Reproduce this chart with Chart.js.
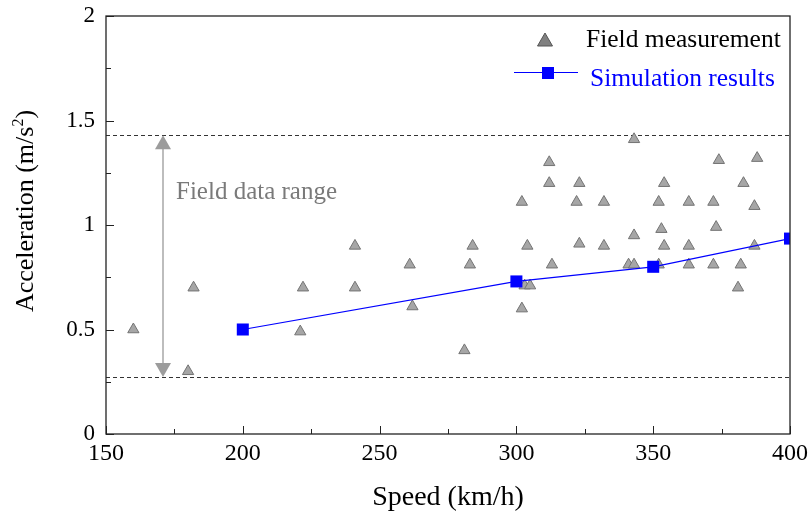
<!DOCTYPE html>
<html lang="en">
<head>
  <meta charset="UTF-8" />
  <title>Acceleration vs Speed</title>
  <script src="https://cdn.jsdelivr.net/npm/chart.js"></script>
  <style>
    body { margin: 0; background: #fff; }
    .wrap { width: 808px; height: 515px; }
  </style>
</head>
<body>
  <div class="wrap"><canvas id="accChart" width="808" height="515"></canvas></div>

  <script>
    // field measurements: speed (km/h) and acceleration (m/s2)
    const fieldSpeed = [160, 182, 180, 221, 222, 241, 241, 261, 262, 281, 283, 284,
      302, 302, 304, 303, 305, 312, 312, 313, 323, 322, 323, 332, 332,
      341, 343, 343, 343, 352, 353, 352, 354, 354, 363, 363, 363,
      372, 372, 373, 374, 383, 382, 381, 387, 387, 388];
    const fieldAcc = [0.50, 0.70, 0.30, 0.49, 0.70, 0.90, 0.70, 0.81, 0.61, 0.40, 0.81, 0.90,
      1.11, 0.60, 0.90, 0.71, 0.71, 1.30, 1.20, 0.81, 1.20, 1.11, 0.91, 1.11, 0.90,
      0.81, 0.81, 1.41, 0.95, 1.11, 0.98, 0.81, 1.20, 0.90, 1.11, 0.90, 0.81,
      1.11, 0.81, 0.99, 1.31, 1.20, 0.81, 0.70, 1.09, 0.90, 1.32];

    // simulation results
    const simSpeed = [200, 300, 350, 400];
    const simAcc = [0.50, 0.73, 0.80, 0.935];

    // field data range bounds and where the arrow sits
    const rangeBounds = [0.273, 1.43];
    const arrowSpeed = 171;

    const xTicks = [150, 200, 250, 300, 350, 400];
    const yTicks = [0, 0.5, 1, 1.5, 2];

    const serif = '"Liberation Serif", "Times New Roman", serif';

    const toPoints = (xs, ys) => xs.map((x, i) => ({ x: x, y: ys[i] }));

    // frame, inward ticks, dashed range lines, arrow, legend, y title
    const decor = {
      id: 'decor',
      beforeDatasetsDraw(chart) {
        const { ctx, chartArea: a, scales: { x, y } } = chart;
        ctx.save();
        // dashed bounds
        ctx.strokeStyle = '#333';
        ctx.lineWidth = 1;
        ctx.setLineDash([4, 3]);
        rangeBounds.forEach(v => {
          const py = Math.round(y.getPixelForValue(v)) + 0.5;
          ctx.beginPath(); ctx.moveTo(a.left, py); ctx.lineTo(a.right, py); ctx.stroke();
        });
        ctx.setLineDash([]);

        // double arrow between the bounds
        const ax = Math.round(x.getPixelForValue(arrowSpeed));
        const yTop = y.getPixelForValue(rangeBounds[1]);
        const yBot = y.getPixelForValue(rangeBounds[0]);
        ctx.strokeStyle = '#bdbdbd';
        ctx.lineWidth = 2;
        ctx.beginPath(); ctx.moveTo(ax, yTop + 12); ctx.lineTo(ax, yBot - 12); ctx.stroke();
        ctx.fillStyle = '#9c9c9c';
        ctx.beginPath(); ctx.moveTo(ax, yTop); ctx.lineTo(ax - 8, yTop + 14); ctx.lineTo(ax + 8, yTop + 14); ctx.closePath(); ctx.fill();
        ctx.beginPath(); ctx.moveTo(ax, yBot); ctx.lineTo(ax - 8, yBot - 14); ctx.lineTo(ax + 8, yBot - 14); ctx.closePath(); ctx.fill();

        ctx.fillStyle = '#7a7a7a';
        ctx.font = '25px ' + serif;
        ctx.textBaseline = 'middle';
        ctx.textAlign = 'left';
        ctx.fillText('Field data range', ax + 13, 192);
        ctx.restore();
      },
      afterDraw(chart) {
        const { ctx, chartArea: a, scales: { x, y } } = chart;
        ctx.save();
        ctx.strokeStyle = '#222';
        ctx.lineWidth = 1.3;
        ctx.strokeRect(a.left, a.top, a.right - a.left, a.bottom - a.top);

        ctx.lineWidth = 1;
        for (let v = 150; v <= 400; v += 25) {
          const px = Math.round(x.getPixelForValue(v)) + 0.5;
          const len = v % 50 === 0 ? 8 : 5;
          ctx.beginPath(); ctx.moveTo(px, a.bottom); ctx.lineTo(px, a.bottom - len); ctx.stroke();
        }
        for (let v = 0; v <= 2; v += 0.25) {
          const py = Math.round(y.getPixelForValue(v)) + 0.5;
          const len = (v * 2) % 1 === 0 ? 8 : 5;
          ctx.beginPath(); ctx.moveTo(a.left, py); ctx.lineTo(a.left + len, py); ctx.stroke();
        }

        // legend
        ctx.font = '25.5px ' + serif;
        ctx.textBaseline = 'alphabetic';
        ctx.textAlign = 'left';
        const mx = 545;
        ctx.fillStyle = '#808080';
        ctx.strokeStyle = '#555';
        ctx.beginPath(); ctx.moveTo(mx, 33); ctx.lineTo(mx - 7.5, 46); ctx.lineTo(mx + 7.5, 46); ctx.closePath(); ctx.fill(); ctx.stroke();
        ctx.fillStyle = '#000';
        ctx.fillText('Field measurement', 586, 47);

        ctx.strokeStyle = '#0000ff';
        ctx.lineWidth = 1.2;
        ctx.beginPath(); ctx.moveTo(514, 72.5); ctx.lineTo(578, 72.5); ctx.stroke();
        ctx.fillStyle = '#0000ff';
        ctx.fillRect(542, 67, 12, 12);
        ctx.fillText('Simulation results', 590, 86);

        // y axis title with superscript
        ctx.translate(33, 211);
        ctx.rotate(-Math.PI / 2);
        ctx.fillStyle = '#000';
        ctx.textBaseline = 'alphabetic';
        const main = 'Acceleration (m/s';
        ctx.font = '26px ' + serif;
        const wMain = ctx.measureText(main).width;
        ctx.font = '16px ' + serif;
        const wSup = ctx.measureText('2').width;
        ctx.font = '26px ' + serif;
        const wEnd = ctx.measureText(')').width;
        let sx = -(wMain + wSup + wEnd) / 2;
        ctx.fillText(main, sx, 0);
        sx += wMain;
        ctx.font = '16px ' + serif;
        ctx.fillText('2', sx, -10);
        sx += wSup;
        ctx.font = '26px ' + serif;
        ctx.fillText(')', sx, 0);
        ctx.restore();
      }
    };

    new Chart(document.getElementById('accChart'), {
      type: 'scatter',
      data: {
        datasets: [{
          label: 'Field measurement',
          data: toPoints(fieldSpeed, fieldAcc),
          pointStyle: 'triangle',
          pointRadius: 6.5,
          backgroundColor: '#a6a6a6',
          borderColor: '#737373',
          borderWidth: 1,
          order: 2
        }, {
          label: 'Simulation results',
          type: 'line',
          data: toPoints(simSpeed, simAcc),
          showLine: true,
          borderColor: '#0000ff',
          borderWidth: 1.2,
          pointStyle: 'rect',
          pointRadius: 8.5,
          backgroundColor: '#0000ff',
          pointBorderWidth: 0,
          order: 1
        }]
      },
      options: {
        responsive: false,
        animation: false,
        layout: { padding: { top: 16, right: 18, left: 0, bottom: 0 } },
        plugins: { legend: { display: false }, tooltip: { enabled: false } },
        scales: {
          x: {
            type: 'linear', min: 150, max: 400,
            afterBuildTicks: s => { s.ticks = xTicks.map(v => ({ value: v })); },
            afterFit: s => { s.height = 81; s.paddingLeft = 0; s.paddingRight = 0; },
            grid: { display: false, drawTicks: false },
            border: { display: false },
            ticks: { color: '#000', font: { family: serif, size: 24 }, padding: 5, callback: v => String(v) },
            title: { display: true, text: 'Speed (km/h)', color: '#000', font: { family: serif, size: 28 }, padding: { top: 0, bottom: 1 } }
          },
          y: {
            type: 'linear', min: 0, max: 2,
            afterBuildTicks: s => { s.ticks = yTicks.map(v => ({ value: v })); },
            afterFit: s => { s.width = 106; s.paddingTop = 0; s.paddingBottom = 0; },
            grid: { display: false, drawTicks: false },
            border: { display: false },
            ticks: { color: '#000', font: { family: serif, size: 23 }, padding: 11, crossAlign: 'near', callback: v => String(v) },
            title: { display: false }
          }
        }
      },
      plugins: [decor]
    });
  </script>
</body>
</html>
